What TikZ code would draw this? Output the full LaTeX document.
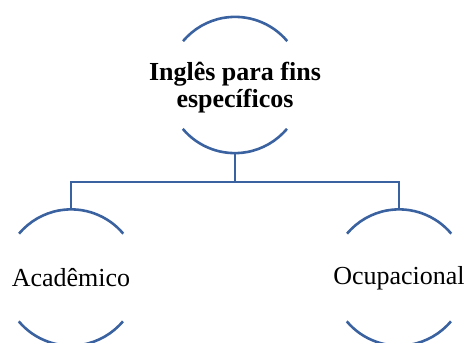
\documentclass[tikz,border=0pt]{standalone}
\usepackage{fontspec}
\setmainfont{Liberation Serif}
\definecolor{arcblue}{HTML}{3A62A0}
\begin{document}
\begin{tikzpicture}[x=1pt,y=-1pt,
  ring/.style={circle,minimum size=136pt,inner sep=0pt},
  arcline/.style={draw=arcblue,line width=2.6pt},
  lbl/.style={font=\fontsize{26}{27}\selectfont,align=center,inner sep=0pt}]
\useasboundingbox (0,0) rectangle (469,343);
\node[ring] (top) at (235,85) {};
\node[ring] (left) at (71,277.5) {};
\node[ring] (right) at (399,277.5) {};
\node[lbl,font=\fontsize{26}{27}\selectfont\bfseries] (ttop) at (235,88) {Inglês para fins\\específicos};
\node[lbl] (tleft) at (71,278) {Acadêmico};
\node[lbl] (tright) at (399,278) {Ocupacional};
\foreach \n in {top,left,right}{
  \draw[arcline] (\n.40) arc[start angle=40,end angle=140,radius=68pt];
  \draw[arcline] (\n.220) arc[start angle=220,end angle=320,radius=68pt];
}
\coordinate (bar) at (235,182);
\draw[arcline] (top.south) -- (bar);
\draw[arcline] (left.north) |- (bar) -| (right.north);
\end{tikzpicture}
\end{document}
